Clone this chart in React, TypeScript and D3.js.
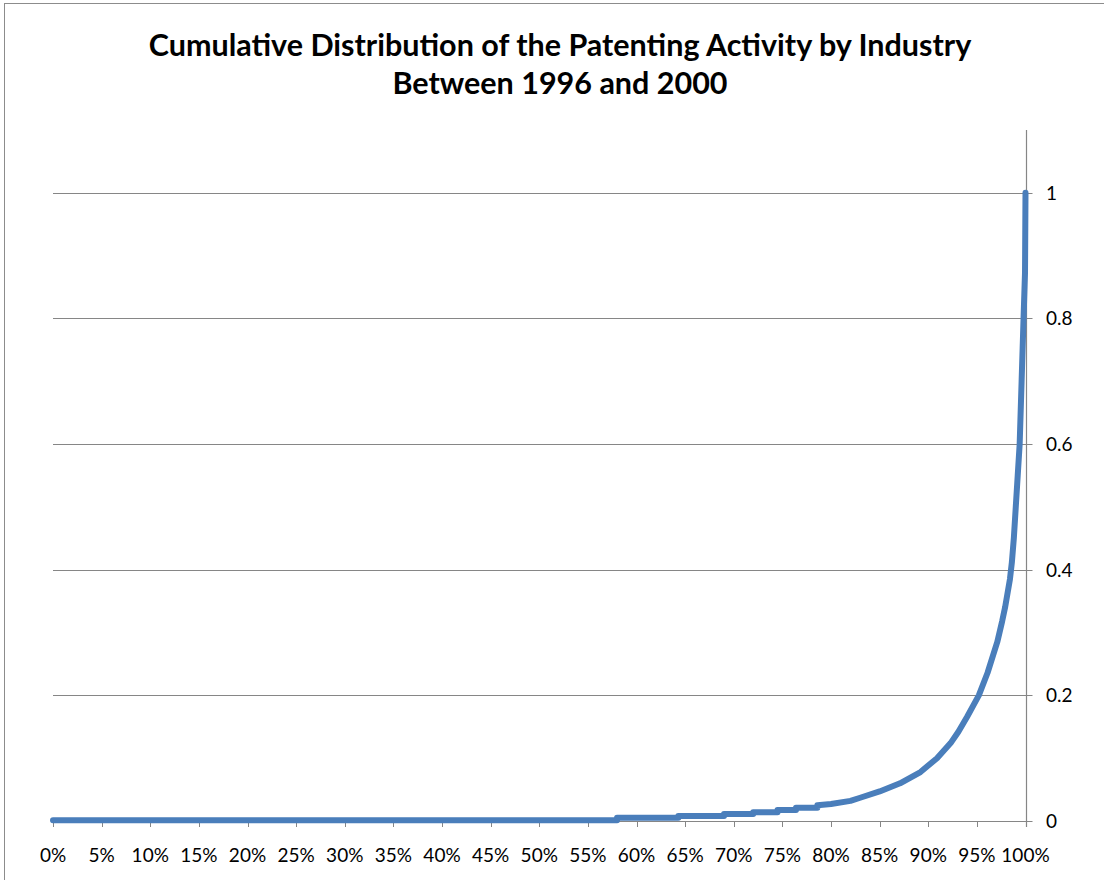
import React from "react";
import * as d3 from "d3";

// Share of industries (percentile, %) and cumulative share of patents at that point
const shareOfIndustries = [
  0, 58.0, 58.0, 64.3, 64.3, 69.0, 69.0, 72.0, 72.0, 74.5, 74.5, 76.4, 76.4, 78.6, 78.6,
  80.0, 82.0, 83.0, 85.0, 87.1, 89.2, 90.9, 92.3, 93.1, 94.0, 95.2, 96.1, 97.1, 97.6,
  97.9, 98.4, 98.6, 98.8, 99.0, 99.2, 99.4, 99.6, 99.8, 99.95, 100,
];
const cumulativeShare = [
  0.001, 0.001, 0.005, 0.005, 0.008, 0.008, 0.011, 0.011, 0.014, 0.014, 0.0175, 0.0175, 0.021, 0.021, 0.025,
  0.027, 0.032, 0.037, 0.047, 0.06, 0.078, 0.1, 0.124, 0.142, 0.166, 0.2, 0.236, 0.285, 0.318,
  0.34, 0.385, 0.412, 0.45, 0.5, 0.55, 0.6, 0.7, 0.8, 0.873, 1.0,
];

const xTicks = d3.range(0, 101, 5);
const xTickLabels = xTicks.map((t) => `${t}%`);
const yTicks = [0, 0.2, 0.4, 0.6, 0.8, 1];
const yTickLabels = ["0", "0.2", "0.4", "0.6", "0.8", "1"];

const titleLines = [
  "Cumulative Distribution of the Patenting Activity by Industry",
  "Between 1996 and 2000",
];

const W = 1104;
const H = 880;
const plot = { left: 53, right: 1025.5, top: 130, bottom: 821 };
const font = "Lato, 'Open Sans', sans-serif";
const gridColor = "#868686";
const lineColor = "#4A7EBB";

export default function App() {
  const x = d3.scaleLinear().domain([0, 100]).range([plot.left, plot.right]);
  const y = d3.scaleLinear().domain([0, 1.1]).range([plot.bottom, plot.top]);

  const points: [number, number][] = shareOfIndustries.map((p, i) => [p, cumulativeShare[i]]);
  const path = d3
    .line<[number, number]>()
    .x((d) => x(d[0]))
    .y((d) => y(d[1]))(points) as string;

  const axisX = Math.round(plot.right) + 0.5;

  return (
    <svg
      width={W}
      height={H}
      style={{ position: "absolute", left: 0, top: 0, background: "#fff" }}
      fontFamily={font}
    >
      <rect x={0} y={0} width={W} height={H} fill="#fff" />
      {/* chart frame */}
      <rect x={4.5} y={3.5} width={W + 10} height={H + 10} fill="none" stroke="#8c8c8c" strokeWidth={1} />

      {/* title */}
      {titleLines.map((t, i) => (
        <text
          key={i}
          x={560}
          y={56 + i * 38}
          textAnchor="middle"
          fontSize={30.5}
          fontWeight={700}
          fill="#000"
        >
          {t}
        </text>
      ))}

      {/* horizontal gridlines with right-side tick marks */}
      {yTicks.map((v) =>
        v === 0 ? null : (
          <line
            key={v}
            x1={plot.left}
            x2={axisX + 6}
            y1={Math.round(y(v)) + 0.5}
            y2={Math.round(y(v)) + 0.5}
            stroke={gridColor}
            strokeWidth={1}
          />
        )
      )}

      {/* x axis */}
      <line
        x1={plot.left}
        x2={axisX + 6}
        y1={Math.round(y(0)) + 0.5}
        y2={Math.round(y(0)) + 0.5}
        stroke={gridColor}
        strokeWidth={1.2}
      />
      {xTicks.map((t) => (
        <line
          key={t}
          x1={Math.round(x(t)) + 0.5}
          x2={Math.round(x(t)) + 0.5}
          y1={y(0)}
          y2={y(0) + 6}
          stroke={gridColor}
          strokeWidth={1}
        />
      ))}

      {/* right value axis */}
      <line x1={axisX} x2={axisX} y1={plot.top} y2={plot.bottom + 6} stroke={gridColor} strokeWidth={1.2} />

      {/* cumulative curve */}
      <path
        d={path}
        fill="none"
        stroke={lineColor}
        strokeWidth={6}
        strokeLinejoin="round"
        strokeLinecap="round"
      />

      {/* y tick labels */}
      {yTicks.map((v, i) => (
        <text key={v} x={1046} y={y(v) + 7} fontSize={19} fill="#000">
          {yTickLabels[i]}
        </text>
      ))}

      {/* x tick labels */}
      {xTicks.map((t, i) => (
        <text key={t} x={x(t)} y={862} textAnchor="middle" fontSize={19} fill="#000">
          {xTickLabels[i]}
        </text>
      ))}
    </svg>
  );
}
